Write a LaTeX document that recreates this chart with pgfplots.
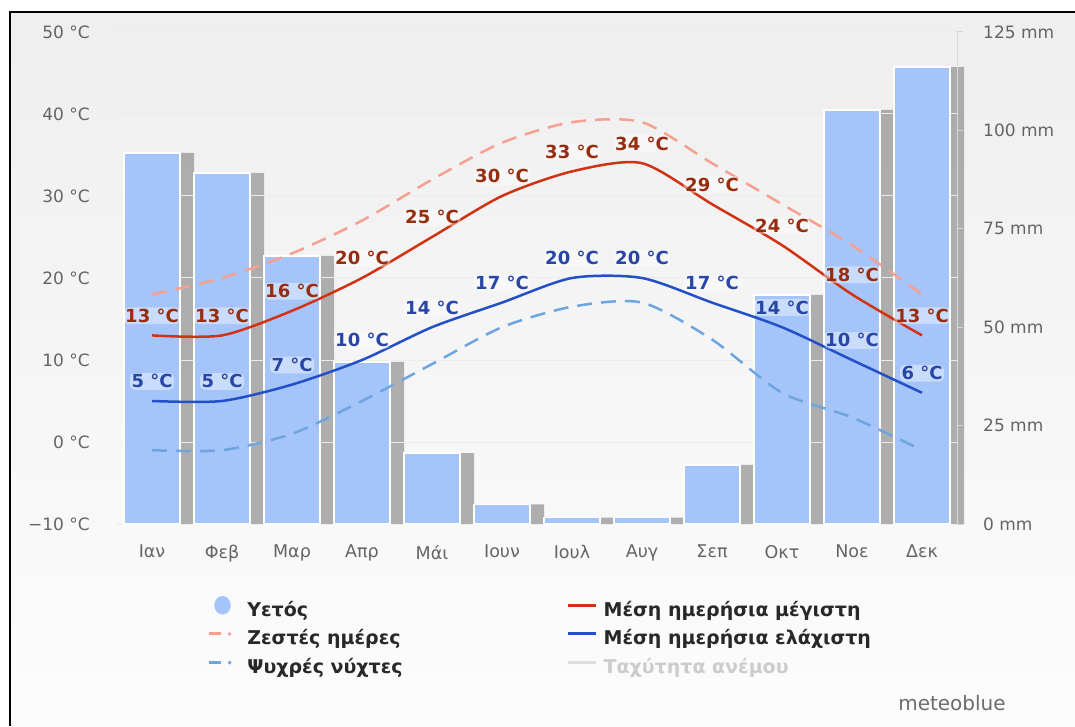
\documentclass[border=0pt]{standalone}
\usepackage{pgfplots}
\usepackage{pgfplotstable}
\pgfplotsset{compat=1.18}
\usepackage{fontspec}
\setmainfont{DejaVu Sans}

\definecolor{bar}{RGB}{165,197,250}
\definecolor{shadow}{RGB}{150,150,150}
\definecolor{tmax}{RGB}{210,50,20}
\definecolor{tmin}{RGB}{35,80,200}
\definecolor{hot}{RGB}{245,160,145}
\definecolor{cold}{RGB}{110,165,225}
\definecolor{lmax}{RGB}{150,45,15}
\definecolor{lmin}{RGB}{40,70,165}
\definecolor{tick}{RGB}{100,100,100}
\definecolor{legtext}{RGB}{40,40,40}

% month, rain (mm), mean max, mean min, hot days, cold nights
\pgfplotstableread{
m prec tmax tmin hot cold
0 94.3 13 5 18 -1
1 89.2 13 5 20 -1
2 68.1 16 7 23 1
3 41.2 20 10 27 5
4 18.0 25 14 32 9.5
5 5.0 30 17 36.5 14
6 1.6 33 20 39 16.5
7 1.6 34 20 39 17
8 15.0 29 17 34 12.5
9 58.2 24 14 29 6
10 105.2 18 10 24 3
11 116.1 13 6 18 -1
}\climate

\pgfplotsset{
  base/.style={
    scale only axis, width=840pt, height=492pt,
    at={(117pt,202pt)}, anchor=south west,
    xmin=-0.5, xmax=11.5,
  },
  tempy/.style={ymin=-10, ymax=50},
  precy/.style={ymin=0, ymax=125},
}
\tikzset{lbl/.style={font=\fontsize{18}{20}\selectfont\bfseries, anchor=south,
  inner sep=1.5pt, yshift=10pt, fill=white, fill opacity=0.4, text opacity=1,
  rounded corners=5pt}}

\begin{document}
\begin{tikzpicture}
\useasboundingbox (0,0) rectangle (1075pt,726pt);
\shade[top color=gray!13, bottom color=gray!2] (10pt,0pt) rectangle (1075pt,714pt);
\draw[line width=2pt] (10pt,0pt) -- (10pt,714pt) -- (1075pt,714pt);

% shadow behind the bars
\begin{axis}[base, precy, hide axis, clip=false]
  \addplot[ybar, bar width=0.8, bar shift=0.2, fill=shadow, draw=none, fill opacity=0.75]
    table[x=m, y=prec] {\climate};
\end{axis}

% grid lines
\begin{axis}[base, tempy, axis line style={draw=none}, xtick=\empty,
    ytick={-10,0,...,50}, yticklabels={}, major tick length=0pt,
    ymajorgrids, major grid style={white!85!gray, line width=1pt}]
  \addplot[draw=none] coordinates {(0,0)};
\end{axis}

% precipitation bars and right axis
\begin{axis}[base, precy, axis x line=none, axis y line*=right,
    y axis line style={gray!30, line width=1pt, -},
    ytick={0,25,...,125},
    yticklabels={0 mm,25 mm,50 mm,75 mm,100 mm,125 mm},
    tick style={gray!35, line width=1pt}, tick align=outside, major tick length=6pt,
    yticklabel style={font=\fontsize{17}{20}\selectfont, text=tick, inner sep=0pt, xshift=20pt}]
  \addplot[ybar, bar width=0.8, fill=bar, draw=white, line width=1.5pt]
    table[x=m, y=prec] {\climate};
\end{axis}

% temperature lines
\begin{axis}[base, tempy, axis line style={draw=none}, major tick length=0pt,
    ytick={-10,0,...,50},
    yticklabels={−10 °C,0 °C,10 °C,20 °C,30 °C,40 °C,50 °C},
    yticklabel style={font=\fontsize{17}{20}\selectfont, text=tick, inner sep=0pt, anchor=east, xshift=-27pt},
    xtick={0,...,11},
    xticklabels={Ιαν,Φεβ,Μαρ,Απρ,Μάι,Ιουν,Ιουλ,Αυγ,Σεπ,Οκτ,Νοε,Δεκ},
    xticklabel style={font=\fontsize{17.5}{20}\selectfont, text=tick, inner sep=0pt, anchor=north, yshift=-21pt},
    legend columns=2, legend cell align=left,
    legend style={at={(0.107,-0.146)}, anchor=north west, draw=none, fill=none,
      inner sep=0pt, font=\fontsize{19}{23}\selectfont\bfseries, text=legtext,
      row sep=8pt, /tikz/column 1/.style={column sep=14pt},
      /tikz/column 2/.style={column sep=162pt}, /tikz/column 3/.style={column sep=4pt}},
    clip=false]
  \addlegendimage{legend image code/.code={\fill[bar] (14pt,4pt) ellipse (8pt and 9pt);}}
  \addlegendentry{Υετός}
  \addlegendimage{legend image code/.code={\draw[tmax, line width=3pt] (0pt,4pt) -- (28pt,4pt);}}
  \addlegendentry{Μέση ημερήσια μέγιστη}
  \addlegendimage{legend image code/.code={\draw[hot, line width=3pt] (0pt,4pt) -- (12pt,4pt); \fill[hot] (21pt,4pt) circle (1.6pt);}}
  \addlegendentry{Ζεστές ημέρες}
  \addlegendimage{legend image code/.code={\draw[tmin, line width=3pt] (0pt,4pt) -- (28pt,4pt);}}
  \addlegendentry{Μέση ημερήσια ελάχιστη}
  \addlegendimage{legend image code/.code={\draw[cold, line width=3pt] (0pt,4pt) -- (12pt,4pt); \fill[cold] (21pt,4pt) circle (1.6pt);}}
  \addlegendentry{Ψυχρές νύχτες}
  \addlegendimage{legend image code/.code={\draw[gray!25, line width=3pt] (0pt,4pt) -- (28pt,4pt);}}
  \addlegendentry[text=gray!40]{Ταχύτητα ανέμου}

  \addplot[forget plot, hot, line width=2.5pt, dash pattern=on 15pt off 9pt, smooth, tension=0.45]
    table[x=m, y=hot] {\climate};
  \addplot[forget plot, cold, line width=2.5pt, dash pattern=on 15pt off 9pt, smooth, tension=0.45]
    table[x=m, y=cold] {\climate};
  \addplot[forget plot, tmax, line width=2.5pt, smooth, tension=0.45,
    nodes near coords={\pgfmathprintnumber[assume math mode=true]{\pgfplotspointmeta}~°C},
    nodes near coords style={lbl, text=lmax}]
    table[x=m, y=tmax] {\climate};
  \addplot[forget plot, tmin, line width=2.5pt, smooth, tension=0.45,
    nodes near coords={\pgfmathprintnumber[assume math mode=true]{\pgfplotspointmeta}~°C},
    nodes near coords style={lbl, text=lmin}]
    table[x=m, y=tmin] {\climate};
\end{axis}

\node[text=gray!85!black, font=\fontsize{20}{24}\selectfont] at (952pt,23pt) {meteoblue};
\end{tikzpicture}
\end{document}
